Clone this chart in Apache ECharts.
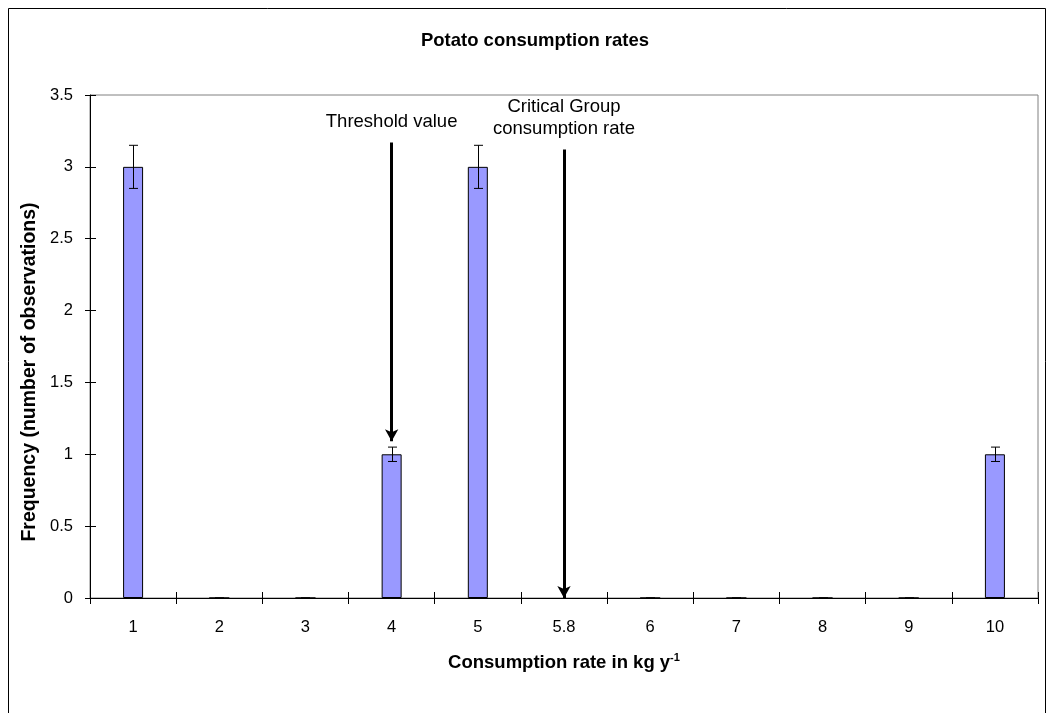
<!DOCTYPE html>
<html>
<head>
<meta charset="utf-8">
<title>Potato consumption rates</title>
<script src="https://cdn.jsdelivr.net/npm/echarts@6/dist/echarts.min.js"></script>
<style>
  html, body { margin: 0; padding: 0; background: #fff; }
  #chart { width: 1048px; height: 713px; }
</style>
</head>
<body>
<div id="chart"></div>
<script>
// data
var categories = ['1', '2', '3', '4', '5', '5.8', '6', '7', '8', '9', '10'];
var frequency = [3, 0, 0, 1, 3, null, 0, 0, 0, 0, 1];
var errors = [0.15, 0, 0, 0.05, 0.15, null, 0, 0, 0, 0, 0.05];
var yTicks = { min: 0, max: 3.5, step: 0.5 };

// arrows: category, top value, tip value, label
var arrowCats = ['4', '5.8'];
var arrowTop = [3.17, 3.12];
var arrowTip = [1.09, 0];
var arrowText = ['Threshold value', 'Critical Group\nconsumption rate'];

var FONT = '"Liberation Sans", Arial, sans-serif';

var chart = echarts.init(document.getElementById('chart'));

var arrowLines = arrowCats.map(function (c, i) {
  return [
    { coord: [c, arrowTop[i]], label: { formatter: arrowText[i] } },
    { coord: [c, arrowTip[i]] }
  ];
});

var errData = [];
frequency.forEach(function (v, i) {
  if (v === null) return;
  errData.push([i, v - errors[i], v + errors[i]]);
});

var option = {
  animation: false,
  backgroundColor: '#fff',
  textStyle: { fontFamily: FONT },
  title: {
    text: 'Potato consumption rates',
    left: 530,
    textAlign: 'center',
    top: 26,
    textStyle: { fontFamily: FONT, fontSize: 18.5, fontWeight: 'bold', color: '#000' }
  },
  graphic: [
    {
      type: 'rect',
      shape: { x: 8.5, y: 8.5, width: 1037, height: 730 },
      style: { fill: null, stroke: '#000', lineWidth: 1 },
      silent: true, z: -10
    },
    {
      // y axis title
      type: 'text',
      x: 30, y: 372,
      rotation: Math.PI / 2,
      style: {
        text: 'Frequency (number of observations)',
        font: 'bold 19.5px ' + FONT,
        fill: '#000',
        align: 'center',
        verticalAlign: 'middle'
      }
    }
  ],
  grid: {
    left: 90, right: 10, top: 95, bottom: 115,
    show: true, borderColor: '#808080', borderWidth: 1
  },
  xAxis: [
    {
      type: 'category',
      data: categories,
      position: 'bottom',
      axisLine: { lineStyle: { color: '#000', width: 1 } },
      axisTick: { show: true, length: 6, lineStyle: { color: '#000' } },
      axisLabel: { color: '#000', fontSize: 16.5, fontFamily: FONT, margin: 21 },
      name: 'Consumption rate in kg y{sup|-1}',
      nameLocation: 'middle',
      nameGap: 54,
      nameTextStyle: {
        color: '#000', fontSize: 18.5, fontWeight: 'bold', fontFamily: FONT,
        rich: { sup: { fontSize: 11, fontWeight: 'bold', verticalAlign: 'top', padding: [0, 0, 10, 0] } }
      }
    },
    {
      // inner half of the crossing ticks
      type: 'category',
      data: categories,
      position: 'bottom',
      axisLine: { show: false },
      axisTick: { show: true, inside: true, length: 6, lineStyle: { color: '#000' } },
      axisLabel: { show: false }
    }
  ],
  yAxis: [
    {
      type: 'value',
      min: yTicks.min, max: yTicks.max, interval: yTicks.step,
      axisLine: { show: true, lineStyle: { color: '#000' } },
      axisTick: { show: true, length: 5, lineStyle: { color: '#000' } },
      axisLabel: { color: '#000', fontSize: 16.5, fontFamily: FONT, margin: 17 },
      splitLine: { show: false }
    },
    {
      type: 'value',
      position: 'left',
      min: yTicks.min, max: yTicks.max, interval: yTicks.step,
      axisLine: { show: false },
      axisTick: { show: true, inside: true, length: 6, lineStyle: { color: '#000' } },
      axisLabel: { show: false },
      splitLine: { show: false }
    }
  ],
  series: [
    {
      type: 'bar',
      data: frequency,
      barWidth: 20,
      itemStyle: { color: '#9999FF', borderColor: '#000', borderWidth: 1 },
      markLine: {
        silent: true,
        symbol: ['none', 'arrow'],
        symbolSize: [10, 12],
        lineStyle: { color: '#000', width: 3, type: 'solid' },
        label: {
          show: true,
          position: 'start',
          distance: 10,
          color: '#000',
          fontSize: 18.5,
          fontFamily: FONT,
          lineHeight: 22,
          align: 'center'
        },
        data: arrowLines
      }
    },
    {
      // error bars
      type: 'custom',
      data: errData,
      z: 5,
      renderItem: function (params, api) {
        var lo = api.coord([api.value(0), api.value(1)]);
        var hi = api.coord([api.value(0), api.value(2)]);
        var x = Math.round(lo[0]) + 0.5;
        var w = 4.5;
        var st = { stroke: '#000', lineWidth: 1 };
        return {
          type: 'group',
          children: [
            { type: 'line', shape: { x1: x, y1: lo[1], x2: x, y2: hi[1] }, style: st },
            { type: 'line', shape: { x1: x - w, y1: lo[1], x2: x + w, y2: lo[1] }, style: st },
            { type: 'line', shape: { x1: x - w, y1: hi[1], x2: x + w, y2: hi[1] }, style: st }
          ]
        };
      }
    }
  ]
};

chart.setOption(option);
</script>
</body>
</html>
